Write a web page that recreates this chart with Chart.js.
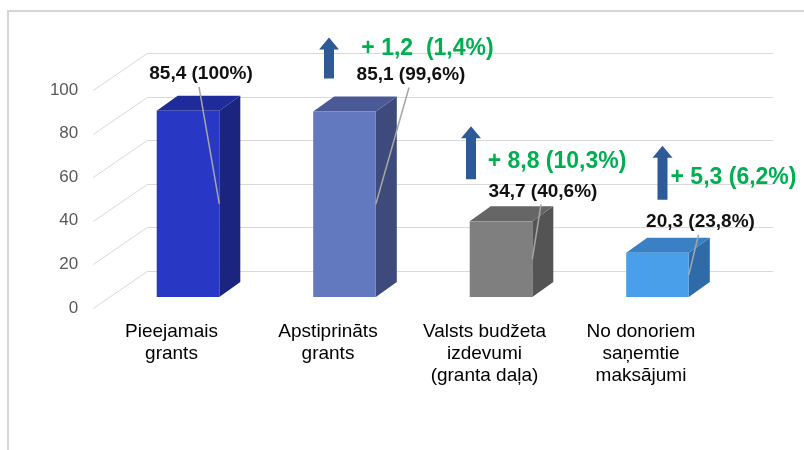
<!DOCTYPE html>
<html>
<head>
<meta charset="utf-8">
<script src="https://cdn.jsdelivr.net/npm/chart.js@4.4.1/dist/chart.umd.min.js"></script>
<style>
    html, body { margin: 0; padding: 0; background: #fff; }
    #wrap { width: 804px; height: 450px; }
</style>
</head>
<body>
<div id="wrap"><canvas id="chart" width="804" height="450"></canvas></div>
<script>
// values
const categories = [
    ['Pieejamais', 'grants'],
    ['Apstiprināts', 'grants'],
    ['Valsts budžeta', 'izdevumi', '(granta daļa)'],
    ['No donoriem', 'saņemtie', 'maksājumi']
];
const values = [85.4, 85.1, 34.7, 20.3];
const shares = [100, 99.6, 40.6, 23.8];
const increases = [null, 1.2, 8.8, 5.3];
const increaseShares = [null, 1.4, 10.3, 6.2];
const yMin = 0;
const yMax = 100;
const yStep = 20;

const fontFamily = "'Liberation Sans', Arial, sans-serif";

const barColors = [
    { front: '#2837C4', side: '#1B247E', top: '#1F2B9A' },
    { front: '#6379BF', side: '#3D4A7B', top: '#4B5A96' },
    { front: '#7F7F7F', side: '#545454', top: '#666666' },
    { front: '#4A9FEB', side: '#2F6BA8', top: '#3A80C4' }
];

// 3d geometry: bar front face offset, bar depth, back wall offset
const front = { dx: 16.5, dy: -11 };
const depth = { dx: 21, dy: -15 };
const wall = { dx: 54, dy: -37 };

// label / annotation placement relative to the bar's front top centre
const labelOffsets = [[13, -37], [66.5, -37], [42, -30], [43, -31]];
const arrowBoxes = [null, [-15.5, -74, -33], [-30, -95, -42], [5, -107, -53]];
const increaseOffsets = [null, [83, -63], [56, -60], [76, -75]];

const fmt = v => (v === 100 ? '100' : v.toFixed(1).replace('.', ','));

const wall3d = {
    id: 'wall3d',
    beforeDraw(chart) {
        const c = chart.ctx;
        c.save();
        c.fillStyle = '#fff';
        c.fillRect(0, 0, chart.width, chart.height);
        c.strokeStyle = '#D6D6D6';
        c.lineWidth = 2;
        c.strokeRect(8, 11, chart.width + 20, chart.height + 20);
        c.restore();
    },
    beforeDatasetsDraw(chart) {
        const c = chart.ctx;
        const y = chart.scales.y;
        const area = chart.chartArea;
        c.save();
        c.strokeStyle = '#D9D9D9';
        c.lineWidth = 1;
        for (let v = yMin; v <= yMax; v += yStep) {
            const py = Math.round(y.getPixelForValue(v)) + 0.5;
            c.beginPath();
            c.moveTo(area.left, py);
            c.lineTo(area.left + wall.dx, py + wall.dy);
            c.lineTo(area.right + wall.dx, py + wall.dy);
            c.stroke();
        }
        c.restore();
    },
    afterDatasetsDraw(chart) {
        const c = chart.ctx;
        const bars = chart.getDatasetMeta(0).data;
        c.save();
        bars.forEach((bar, i) => {
            const col = barColors[i];
            const l = bar.x - bar.width / 2 + front.dx;
            const r = bar.x + bar.width / 2 + front.dx;
            const t = bar.y + front.dy;
            const b = bar.base + front.dy;
            // side
            c.fillStyle = col.side;
            c.beginPath();
            c.moveTo(r, t);
            c.lineTo(r + depth.dx, t + depth.dy);
            c.lineTo(r + depth.dx, b + depth.dy);
            c.lineTo(r, b);
            c.closePath();
            c.fill();
            // top
            c.fillStyle = col.top;
            c.beginPath();
            c.moveTo(l, t);
            c.lineTo(l + depth.dx, t + depth.dy);
            c.lineTo(r + depth.dx, t + depth.dy);
            c.lineTo(r, t);
            c.closePath();
            c.fill();
            // front
            c.fillStyle = col.front;
            c.fillRect(l, t, r - l, b - t);
        });

        bars.forEach((bar, i) => {
            const cx = bar.x + front.dx;
            const t = bar.y + front.dy;
            const b = bar.base + front.dy;
            const r = bar.x + bar.width / 2 + front.dx;
            const lx = cx + labelOffsets[i][0];
            const ly = t + labelOffsets[i][1];

            // leader line
            c.strokeStyle = '#A6A6A6';
            c.lineWidth = 1.5;
            c.beginPath();
            c.moveTo(lx - 2, ly + 13);
            c.lineTo(r, (t + b) / 2);
            c.stroke();

            c.fillStyle = '#111';
            c.font = `bold 19px ${fontFamily}`;
            c.textAlign = 'center';
            c.textBaseline = 'middle';
            c.fillText(`${fmt(values[i])} (${fmt(shares[i])}%)`, lx, ly);

            if (increases[i] != null) {
                const [ax, at, ab] = arrowBoxes[i];
                const acx = cx + ax;
                const top = t + at;
                const bottom = t + ab;
                c.fillStyle = '#2F5A98';
                c.beginPath();
                c.moveTo(acx, top);
                c.lineTo(acx + 10, top + 12);
                c.lineTo(acx + 5, top + 12);
                c.lineTo(acx + 5, bottom);
                c.lineTo(acx - 5, bottom);
                c.lineTo(acx - 5, top + 12);
                c.lineTo(acx - 10, top + 12);
                c.closePath();
                c.fill();

                const sep = i === 1 ? '  ' : ' ';
                c.fillStyle = '#00B050';
                c.font = `bold 23px ${fontFamily}`;
                c.fillText(`+ ${fmt(increases[i])}${sep}(${fmt(increaseShares[i])}%)`,
                    cx + increaseOffsets[i][0], t + increaseOffsets[i][1]);
            }
        });
        c.restore();
    }
};

const ctx = document.getElementById('chart').getContext('2d');
new Chart(ctx, {
    type: 'bar',
    data: {
        labels: categories,
        datasets: [{
            data: values,
            backgroundColor: 'rgba(0,0,0,0)',
            borderWidth: 0,
            barPercentage: 0.4,
            categoryPercentage: 1
        }]
    },
    options: {
        responsive: false,
        animation: false,
        layout: { padding: { left: 0, right: 84.75, top: 90, bottom: 0 } },
        plugins: {
            legend: { display: false },
            tooltip: { enabled: false }
        },
        scales: {
            x: {
                grid: { display: false, drawTicks: false },
                border: { display: false },
                ticks: {
                    color: '#000',
                    font: { family: fontFamily, size: 19, lineHeight: 1.16 },
                    padding: 13,
                    maxRotation: 0,
                    autoSkip: false
                },
                afterFit: s => { s.height = 142; }
            },
            y: {
                min: yMin,
                max: yMax,
                grid: { display: false, drawTicks: false },
                border: { display: false },
                ticks: {
                    stepSize: yStep,
                    color: '#595959',
                    font: { family: fontFamily, size: 17 },
                    padding: 15
                },
                afterFit: s => { s.width = 93.25; }
            }
        }
    },
    plugins: [wall3d]
});
</script>
</body>
</html>
